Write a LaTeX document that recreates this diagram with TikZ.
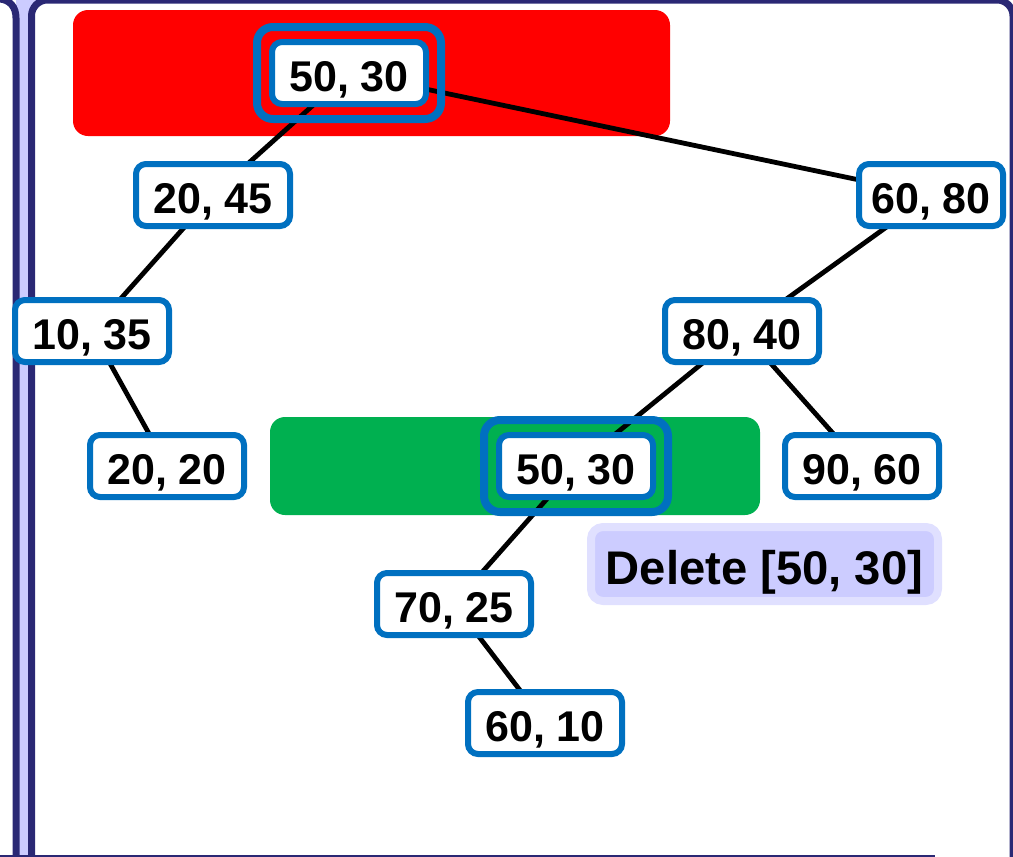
\documentclass[tikz,border=0pt]{standalone}
\usepackage{fontspec}
\setmainfont{Liberation Sans}
\usetikzlibrary{backgrounds}

\definecolor{keyblue}{RGB}{0,112,192}
\definecolor{framenavy}{RGB}{42,40,116}
\definecolor{scrolllav}{RGB}{204,204,255}
\definecolor{notelav}{RGB}{224,224,255}
\definecolor{hitgreen}{RGB}{0,176,80}

\begin{document}
\begin{tikzpicture}[x=0.5pt,y=-0.5pt,
  key/.style={draw=keyblue,line width=3pt,fill=white,rounded corners=5pt,
    minimum width=77pt,minimum height=31pt,inner sep=0pt,
    font=\fontsize{21.5}{25}\selectfont\bfseries,text height=18.3pt,text depth=0pt},
  ring/.style={draw=keyblue,line width=4pt,rounded corners=8pt,
    minimum width=92pt,minimum height=46pt,inner sep=0pt},
  note/.style={draw=notelav,fill=scrolllav,line width=4pt,rounded corners=6pt,
    minimum width=173.5pt,minimum height=37pt,inner sep=0pt,
    font=\fontsize{23.6}{28}\selectfont\bfseries,text height=20pt,text depth=0pt},
  edge/.style={line width=2.4pt,black}]

\useasboundingbox (0,0) rectangle (1013,857);
\clip (0,0) rectangle (1013,857);

% Frame
\fill[scrolllav] (16,870) -- (16,0) -- (47.5,0)
  .. controls (38.7,0) and (31.5,7.2) .. (31.5,16) -- (31.5,870) -- cycle;
\draw[framenavy,line width=3.5pt] (16,870) -- (16,18) .. controls (16,7) and (10,0) .. (0,-1);
\draw[framenavy,line width=3.5pt,rounded corners=8pt] (31.5,870) -- (31.5,0) -- (1013,0) -- (1013,870);
\draw[framenavy,line width=1pt] (0,856) -- (935,856);

% Keys
\node[key] (root) at (349,73) {50, 30};
\node[ring] (rootring) at (root) {};
\node[key] (n2045) at (213,195) {20, 45};
\node[key,minimum width=72pt] (n6080) at (931,195) {60, 80};
\node[key] (n1035) at (92,331) {10, 35};
\node[key] (n8040) at (742,331) {80, 40};
\node[key] (n2020) at (167,466) {20, 20};
\node[key] (hit) at (576,466) {50, 30};
\node[ring] (hitring) at (hit) {};
\node[key] (n9060) at (862,466) {90, 60};
\node[key] (n7025) at (454,604) {70, 25};
\node[key] (n6010) at (545,723) {60, 10};

% Message
\node[note] (msg) at (764.5,564) {Delete [50, 30]};

\begin{pgfonlayer}{background}
% Highlights
\fill[red,rounded corners=7.5pt] (73,10) rectangle (670,136);
\fill[hitgreen,rounded corners=7.5pt] (270,417) rectangle (760,515);

% Tree edges
\draw[edge] (root.center) -- (n2045.center);
\draw[edge] (root.center) -- (n6080.center);
\draw[edge] (n2045.center) -- (n1035.center);
\draw[edge] (n1035.center) -- (n2020.center);
\draw[edge] (n6080.center) -- (n8040.center);
\draw[edge] (n8040.center) -- (hit.center);
\draw[edge] (n8040.center) -- (n9060.center);
\draw[edge] (hit.center) -- (n7025.center);
\draw[edge] (n7025.center) -- (n6010.center);
\end{pgfonlayer}

\end{tikzpicture}
\end{document}
